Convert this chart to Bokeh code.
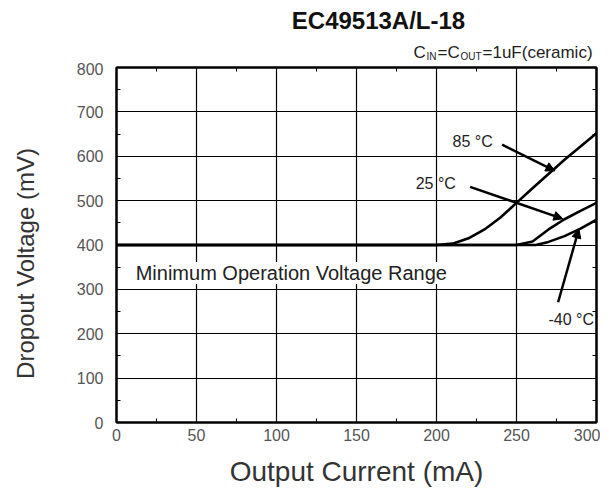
import math
from bokeh.plotting import figure
from bokeh.layouts import column, row
from bokeh.models import Label, Arrow, NormalHead, LinearAxis, FixedTicker, Range1d
from bokeh.embed import file_html
from bokeh.resources import INLINE

# ---- data ----
x_85 = [0, 200, 210, 220, 230, 240, 250, 260, 270, 280, 290, 300]
y_85 = [400, 400, 403, 415, 435, 462, 495, 528, 560, 592, 622, 652]
x_25 = [0, 250, 260, 270, 280, 290, 300]
y_25 = [400, 400, 408, 435, 458, 477, 495]
x_m40 = [0, 262, 270, 280, 290, 300]
y_m40 = [400, 400, 407, 420, 437, 457]
x_ticks = [0, 50, 100, 150, 200, 250, 300]
x_minor = [25, 75, 125, 175, 225, 275]
y_ticks = [0, 100, 200, 300, 400, 500, 600, 700, 800]
y_minor = [50, 150, 250, 350, 450, 550, 650, 750]

FONT = "Liberation Sans"
TOTAL_W, TOTAL_H = 600, 489
SIDE_W = 40                      # strip holding the y-axis title
W = TOTAL_W - SIDE_W
LEFT, RIGHT = 116 - SIDE_W, 4
TOP_H = 62

# ---- left strip with the y-axis title (pixel coordinates) ----
side = figure(width=SIDE_W, height=TOTAL_H, output_backend="svg", toolbar_location=None,
              x_range=Range1d(0, SIDE_W), y_range=Range1d(TOTAL_H, 0),
              x_axis_location=None, y_axis_location=None, min_border=0,
              outline_line_color=None)
side.grid.visible = False
side.add_layout(Label(x=25, y=263, text="Dropout Voltage (mV)", angle=math.pi / 2,
                      text_font=FONT, text_font_size="24px", text_color="#333333",
                      text_align="center", text_baseline="middle"))

# ---- header strip (title and capacitor note), pixel coordinates ----
top = figure(width=W, height=TOP_H, output_backend="svg", toolbar_location=None,
             x_range=Range1d(116, SIDE_W + W - RIGHT), y_range=Range1d(TOP_H, 0),
             x_axis_location=None, y_axis_location=None,
             min_border_left=LEFT, min_border_right=RIGHT, min_border_top=0, min_border_bottom=0,
             outline_line_color=None)
top.grid.visible = False

def tlab(x, y, text, size, style="normal", color="#222222", align="left"):
    top.add_layout(Label(x=x, y=y, text=text, text_font=FONT, text_font_size=size,
                         text_font_style=style, text_color=color,
                         text_align=align, text_baseline="middle"))

tlab(378, 20, "EC49513A/L-18", "24px", style="bold", color="#111111", align="center")
tlab(413, 52, "C", "17px")
tlab(426, 56, "IN", "10px")
tlab(437, 52, "=C", "17px")
tlab(460, 56, "OUT", "10px")
tlab(482, 52, "=1uF(ceramic)", "17px")

# ---- main chart ----
p = figure(width=W, height=TOTAL_H - TOP_H, output_backend="svg", toolbar_location=None,
           x_range=Range1d(0, 300), y_range=Range1d(0, 800),
           min_border_left=LEFT, min_border_right=RIGHT, min_border_top=5,
           min_border_bottom=61)

p.outline_line_color = "black"
p.outline_line_width = 2
p.background_fill_color = "white"
p.border_fill_color = "white"

for ax in (p.xaxis[0], p.yaxis[0]):
    ax.major_label_text_font = FONT
    ax.major_label_text_font_size = "16px"
    ax.major_label_text_color = "#555555"
    ax.axis_label_text_font = FONT
    ax.axis_label_text_font_style = "normal"
    ax.axis_label_text_color = "#333333"
    ax.axis_line_color = "black"
    ax.axis_line_width = 2
    ax.major_tick_in = 0
    ax.major_tick_out = 0
    ax.minor_tick_in = 4
    ax.minor_tick_out = 0
    ax.minor_tick_line_color = "black"

p.xaxis[0].ticker = FixedTicker(ticks=x_ticks, minor_ticks=x_minor)
p.yaxis[0].ticker = FixedTicker(ticks=y_ticks, minor_ticks=y_minor)
p.xaxis[0].axis_label = "Output Current (mA)"
p.xaxis[0].axis_label_text_font_size = "28px"
p.xaxis[0].major_label_standoff = 6
p.yaxis[0].major_label_standoff = 13
p.xaxis[0].axis_label_standoff = 12

for loc, minor in (("right", y_minor), ("above", x_minor)):
    a = LinearAxis(ticker=FixedTicker(ticks=[], minor_ticks=minor))
    a.major_label_standoff = 0
    a.major_tick_in = 0
    a.major_tick_out = 0
    a.minor_tick_in = 4
    a.minor_tick_out = 0
    a.minor_tick_line_color = "black"
    a.axis_line_color = "black"
    a.axis_line_width = 2
    p.add_layout(a, loc)

p.grid.grid_line_color = "black"
p.grid.grid_line_width = 1.2
p.grid.grid_line_alpha = 1
p.xgrid.ticker = FixedTicker(ticks=x_ticks)
p.ygrid.ticker = FixedTicker(ticks=y_ticks)

for xs, ys in ((x_m40, y_m40), (x_25, y_25), (x_85, y_85)):
    p.line(xs, ys, line_color="black", line_width=2.6)

# ---- annotations ----
def lab(x, y, text, size="16px", bg=None):
    p.add_layout(Label(x=x, y=y, text=text, text_font=FONT, text_font_size=size,
                       text_color="#222222", text_align="left", text_baseline="middle",
                       background_fill_color=bg))

lab(12, 337, "Minimum Operation Voltage Range", size="20px", bg="white")
lab(210, 633, "85 °C")
lab(187, 538, "25 °C")
lab(270, 233, "-40 °C")

head = dict(size=9, fill_color="black", line_color="black")
p.add_layout(Arrow(end=NormalHead(**head), x_start=241, y_start=626, x_end=274, y_end=567,
                   line_width=2.5, line_color="black"))
p.add_layout(Arrow(end=NormalHead(**head), x_start=221, y_start=531, x_end=279, y_end=459,
                   line_width=2.5, line_color="black"))
p.add_layout(Arrow(end=NormalHead(**head), x_start=276, y_start=271, x_end=289, y_end=436,
                   line_width=2.5, line_color="black"))

layout = row(side, column(top, p, spacing=0), spacing=0)
open("out.html", "w").write(file_html(layout, INLINE))
